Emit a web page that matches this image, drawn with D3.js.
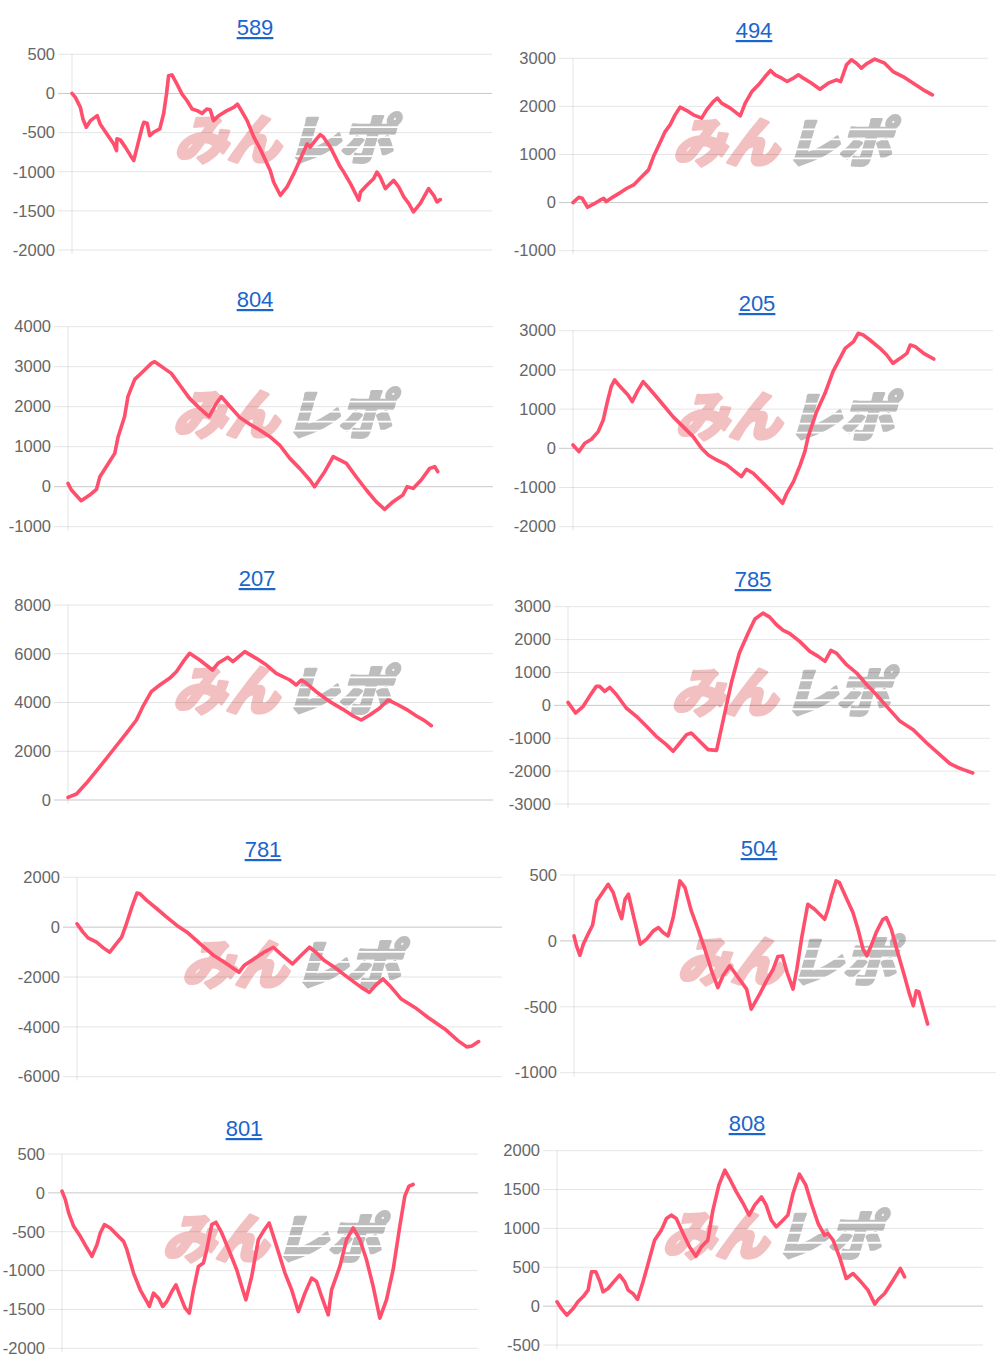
<!DOCTYPE html>
<html>
<head>
<meta charset="utf-8">
<script src="https://cdn.jsdelivr.net/npm/d3@7"></script>
<style>
html,body{margin:0;padding:0;background:#fff;}
svg{display:block;}
</style>
</head>
<body>
<svg id="c" width="1000" height="1366"></svg>
<script>
// ---- DATA ----
const titles = ["589","494","804","205","207","785","781","504","801","808"];

const yDomains = [[-2000,500],[-1000,3000],[-1000,4000],[-2000,3000],[0,8000],[-3000,3000],[-6000,2000],[-1000,500],[-2000,500],[-500,2000]];
const yTickSteps = [500,1000,1000,1000,2000,1000,2000,500,500,500];

// [progress (0-100 of x axis), value]
const d589 = [[0,0],[0.8,-51],[2,-178],[2.6,-326],[3.4,-432],[4.4,-347],[6,-284],[6.7,-390],[8.3,-517],[9.9,-644],[10.6,-729],[10.7,-580],[11.5,-593],[12.7,-686],[13.9,-792],[14.7,-856],[15.5,-686],[16.7,-432],[17.1,-369],[17.9,-381],[18.5,-538],[19.4,-496],[20.9,-453],[21.8,-263],[22.5,-8],[23,225],[23.8,237],[25,119],[26.2,-8],[27.4,-93],[28.6,-199],[29.8,-220],[31,-254],[32.1,-199],[32.9,-208],[33.7,-347],[34.9,-284],[36.9,-220],[38.5,-178],[39.4,-136],[40.1,-199],[41.7,-347],[43.3,-559],[44.8,-708],[47.2,-983],[48,-1131],[49.6,-1301],[51.2,-1195],[52.8,-1025],[54.4,-835],[56,-644],[56.7,-686],[57.9,-602],[59.1,-525],[59.9,-559],[61.5,-686],[63.9,-941],[64.7,-1004],[66.3,-1152],[68.3,-1364],[68.7,-1258],[70.2,-1174],[71.8,-1089],[72.6,-1004],[73.4,-1068],[74.6,-1216],[76.6,-1110],[77.8,-1195],[79,-1322],[80.2,-1407],[81.3,-1513],[82.9,-1407],[84.9,-1216],[86.1,-1301],[86.9,-1386],[87.7,-1356]];
const d494 = [[0,0],[1.4,111],[2.2,90],[3.5,-97],[5,-28],[6.6,55],[7.4,90],[8,21],[9.8,125],[11.4,208],[13,298],[14.6,368],[16.2,506],[18.2,680],[19.4,957],[20.9,1234],[22.2,1477],[23.4,1616],[24.6,1824],[25.8,1983],[27.4,1914],[29,1824],[31,1755],[32.2,1928],[33.8,2101],[34.8,2171],[35.8,2067],[37.9,1963],[40.3,1803],[41.5,2067],[43.1,2309],[44.7,2448],[46.3,2621],[47.6,2746],[48.7,2656],[50.3,2587],[51.6,2517],[53.1,2587],[54.3,2656],[55.5,2587],[57.5,2483],[59.5,2358],[61.5,2483],[63.5,2552],[64.5,2517],[65.9,2864],[67.1,2968],[68.3,2899],[69.5,2795],[70.7,2885],[72.7,2982],[75.1,2899],[77.1,2725],[79.5,2621],[82,2483],[84.4,2344],[86.6,2240]];
const d804 = [[0,83],[0.8,-83],[3.1,-350],[5.1,-208],[6.7,-67],[7.5,250],[9,500],[11,833],[11.8,1250],[13.3,1750],[14.1,2250],[15.7,2683],[17.6,2875],[19.6,3083],[20.4,3125],[22.3,2983],[24.3,2833],[26.3,2542],[28.6,2208],[31,1958],[33.2,1750],[34.9,2083],[36.1,2250],[38,2017],[40.4,1733],[42.7,1567],[45.1,1417],[47.5,1250],[49.8,1042],[52.2,708],[54.5,458],[56.9,167],[58,0],[60.4,375],[62.4,750],[65.5,583],[67.8,250],[70.2,-83],[72.5,-375],[74.5,-567],[76.5,-375],[78.8,-208],[79.8,0],[81.2,-42],[83.1,167],[85.1,458],[86.3,500],[87,375]];
const d205 = [[0,85],[1.4,-85],[2.8,128],[4.4,230],[6,425],[7.2,723],[8.1,1148],[9.1,1573],[9.9,1743],[11.1,1590],[13.1,1360],[14.1,1190],[15.3,1445],[16.7,1700],[17.9,1556],[19.5,1360],[21.5,1105],[23.8,808],[26.2,553],[28.6,298],[30.6,0],[32.2,-170],[34.2,-298],[36.6,-425],[38.6,-595],[40.1,-723],[41.3,-536],[42.9,-638],[45.3,-893],[47.7,-1148],[49.9,-1403],[50.9,-1148],[52.5,-850],[54.1,-425],[55.2,-85],[56,298],[58,935],[60,1403],[61.9,1955],[64.8,2550],[66.8,2720],[67.9,2933],[69.1,2890],[70.7,2763],[73.1,2550],[74.7,2380],[76.2,2168],[77.9,2295],[79.5,2423],[80.3,2635],[81.5,2593],[83.5,2423],[85.9,2278]];
const d207 = [[0,109],[2,246],[4.3,684],[7.5,1368],[10.6,2051],[13.7,2735],[16.1,3282],[17.6,3829],[19.6,4444],[21.6,4718],[23.9,4991],[25.5,5265],[27.1,5675],[28.6,6017],[31,5744],[34,5333],[35.3,5607],[37.6,5853],[38.8,5675],[41.6,6085],[44.3,5812],[46.7,5538],[49,5197],[52.2,4923],[53.7,4718],[54.9,4923],[56.1,4786],[58.4,4444],[61.6,4034],[64.7,3720],[67.1,3446],[69,3282],[71,3487],[73.3,3761],[75.3,4103],[77.3,3938],[79.6,3720],[82,3446],[83.9,3255],[85.5,3049]];
const d785 = [[0,91],[1.8,-233],[3.6,-30],[5.1,274],[6.7,577],[7.5,577],[8.7,425],[9.9,547],[11.5,324],[13.8,-81],[16.2,-334],[18.6,-638],[20.9,-942],[23.3,-1195],[24.9,-1398],[26.5,-1145],[28.1,-891],[29.2,-841],[31.2,-1094],[33.2,-1347],[35.2,-1368],[36.8,-436],[38.7,679],[40.6,1590],[42.7,2198],[44.3,2624],[46.2,2806],[47.8,2684],[49.4,2451],[51,2279],[52.6,2178],[54.9,1945],[57.3,1641],[59.3,1489],[60.9,1337],[62.3,1671],[63.6,1590],[66,1236],[68.4,983],[70.8,628],[73.1,324],[75.5,-30],[78.7,-486],[81.8,-740],[85,-1145],[88.1,-1499],[90.5,-1773],[92.1,-1874],[93.7,-1955],[95.9,-2056]];
const d781 = [[0,134],[1.4,-201],[2.6,-429],[4.6,-604],[6.2,-832],[7.7,-1007],[8.9,-738],[10.5,-403],[11.5,67],[12.9,805],[14.1,1369],[14.8,1342],[16.4,1074],[18.8,738],[21.1,403],[23.5,67],[25.9,-201],[29,-671],[32.2,-1141],[35.3,-1476],[38.1,-1812],[39.3,-1543],[41.6,-1275],[44,-1007],[46.2,-805],[47.9,-1074],[50.7,-1476],[52.7,-1141],[54.7,-805],[56.2,-1007],[58.2,-1342],[60.6,-1610],[63.7,-2013],[66.9,-2416],[68.8,-2617],[70.4,-2308],[72,-2080],[73.6,-2349],[76.3,-2885],[79.5,-3221],[82.6,-3623],[86.6,-4093],[89.7,-4563],[91.7,-4804],[92.9,-4764],[94.5,-4590]];
const d504 = [[0,38],[0.6,-38],[1.4,-109],[2.2,-25],[3.2,43],[4.4,119],[5.4,303],[6.5,354],[8.1,429],[9.3,366],[10.5,240],[11.3,169],[12.1,316],[12.9,354],[14.1,189],[15.7,-25],[17.2,13],[18.8,76],[20,101],[21.1,63],[22.3,38],[23.5,177],[25.1,455],[26.3,404],[27.8,227],[29.4,88],[31,-63],[32.6,-227],[34.1,-354],[35.3,-265],[36.9,-189],[38.9,-278],[40.9,-366],[42,-518],[44,-404],[45.6,-303],[47.2,-215],[48.3,-119],[49.4,-114],[50.5,-240],[51.9,-366],[52.8,-215],[53.9,13],[55.4,278],[57,240],[59.4,164],[60.2,240],[61,341],[62.1,455],[62.9,442],[64.5,328],[66.1,215],[67.3,88],[68.5,-63],[69.4,-114],[70.4,-38],[71.6,63],[73.2,164],[74,177],[75.2,88],[76.7,-88],[78.3,-265],[79.5,-404],[80.4,-492],[81.1,-379],[81.7,-386],[82.6,-492],[83.8,-631]];
const d801 = [[0,22],[0.8,-86],[1.6,-258],[2.8,-430],[4.4,-559],[6,-710],[7.2,-817],[8.4,-667],[9.2,-516],[10.2,-409],[11.6,-452],[13.2,-538],[14.8,-624],[15.6,-731],[17.2,-1032],[18.8,-1247],[20.4,-1398],[21,-1462],[22,-1290],[23.2,-1355],[24.2,-1462],[25.2,-1398],[26.4,-1269],[27.4,-1183],[28,-1269],[28.8,-1376],[29.6,-1484],[30.6,-1548],[31.6,-1247],[32.8,-946],[34,-903],[34.8,-731],[36,-409],[37,-378],[38.4,-516],[40.4,-774],[42,-989],[43.2,-1204],[44.2,-1376],[45.6,-1075],[47.2,-602],[48.4,-495],[49.8,-387],[51.6,-688],[53.6,-1032],[55.2,-1247],[56.8,-1527],[58.4,-1290],[60,-1097],[61.2,-1140],[62.4,-1333],[64,-1570],[64.8,-1247],[66.8,-946],[68.4,-602],[70,-452],[71.6,-602],[73.2,-860],[74.8,-1204],[76.4,-1613],[78,-1376],[79.6,-989],[81.2,-430],[82.4,-43],[83.4,86],[84.4,108]];
const d808 = [[0,56],[1,-30],[2.3,-116],[3.8,-30],[4.9,56],[6.1,120],[7.3,206],[8.1,442],[9.1,442],[10.1,313],[10.8,184],[12,227],[13.1,300],[14.7,399],[15.9,313],[16.7,206],[17.8,163],[18.9,86],[20.2,313],[21.4,549],[22.9,849],[24.5,978],[25.7,1128],[26.8,1171],[28,1128],[29.6,935],[31.1,763],[32.6,643],[33.9,763],[35.4,849],[36.6,1235],[38,1557],[39.4,1750],[40.5,1642],[42.1,1471],[43.7,1321],[45.1,1171],[46.4,1299],[48,1407],[49.1,1299],[50.3,1106],[51.5,1021],[52.7,1085],[54.2,1171],[55.4,1449],[56.9,1698],[58.4,1557],[59.7,1321],[61.3,1063],[62.8,913],[63.6,935],[64.8,849],[66.3,635],[67.9,356],[69.5,420],[71,334],[73,206],[74.6,26],[75.4,86],[76.9,163],[78.9,334],[80.6,485],[81.6,377]];

const seriesList = [d589,d494,d804,d205,d207,d785,d781,d504,d801,d808];

// ---- LAYOUT (page positions of each panel in the collage) ----
const layout = [
  {left:72,  right:492, top:54.3,  bottom:250,    tx:255, ty:35},
  {left:573, right:988, top:58.3,  bottom:250.7,  tx:754, ty:38},
  {left:68,  right:493, top:326.7, bottom:526.7,  tx:255, ty:307},
  {left:573, right:993, top:330.7, bottom:526.7,  tx:757, ty:311},
  {left:68,  right:493, top:605,   bottom:800,    tx:257, ty:586},
  {left:568, right:990, top:606.7, bottom:804,    tx:753, ty:587},
  {left:77,  right:502, top:877.3, bottom:1076.7, tx:263, ty:857},
  {left:574, right:996, top:875,   bottom:1072.7, tx:759, ty:856},
  {left:62,  right:478, top:1154,  bottom:1348.3, tx:244, ty:1136},
  {left:557, right:983, top:1150.7,bottom:1345,   tx:747, ty:1131}
];

const FONT = "'Liberation Sans', Arial, Helvetica, sans-serif";
const svg = d3.select("#c");
svg.append("rect").attr("width",1000).attr("height",1366).attr("fill","#fff");

layout.forEach((p, i) => {
  const g = svg.append("g");
  const [ymin, ymax] = yDomains[i];
  const x = d3.scaleLinear().domain([0,100]).range([p.left, p.right]);
  const y = d3.scaleLinear().domain([ymin, ymax]).range([p.bottom, p.top]);
  const ticks = d3.range(ymin, ymax + yTickSteps[i]/2, yTickSteps[i]);

  // watermark (behind everything)
  const cx = (p.left + p.right) / 2, cy = (p.top + p.bottom) / 2 - 12;
  const wm = g.append("g").attr("transform", `translate(${cx},${cy + 19}) skewX(-16)`);
  wm.append("text").attr("x", -2).attr("text-anchor","end")
    .attr("font-family","'Noto Sans CJK JP'").attr("font-weight",900).attr("font-size",53)
    .attr("fill","#f2c0c0").attr("stroke","#f2c0c0").attr("stroke-width",3)
    .attr("stroke-linejoin","round").text("みん");
  wm.append("text").attr("x", 4).attr("text-anchor","start")
    .attr("font-family","'Noto Sans CJK JP'").attr("font-weight",900).attr("font-size",53)
    .attr("fill","#bdbdbd").attr("stroke","#bdbdbd").attr("stroke-width",3)
    .attr("stroke-linejoin","round").text("レポ");
  [-33,-23,-13,-4].forEach(o => {
    wm.append("rect").attr("x", 2).attr("y", o).attr("width", 125).attr("height", 1.8).attr("fill","#fff");
  });

  // gridlines
  g.selectAll(".grid").data(ticks).enter().append("line")
    .attr("x1", p.left - 14).attr("x2", p.right)
    .attr("y1", d => y(d)).attr("y2", d => y(d))
    .attr("stroke", d => d === 0 ? "rgba(0,0,0,0.22)" : "rgba(0,0,0,0.1)")
    .attr("stroke-width", 1);
  // vertical axis line
  g.append("line").attr("x1", p.left).attr("x2", p.left)
    .attr("y1", p.top).attr("y2", p.bottom + 4)
    .attr("stroke","rgba(0,0,0,0.1)");

  // y axis labels
  const ax = g.append("g").attr("transform", `translate(${p.left},0)`)
    .call(d3.axisLeft(y).tickValues(ticks).tickSize(0).tickPadding(17).tickFormat(d => String(d)));
  ax.select(".domain").remove();
  ax.selectAll("text").attr("font-family", FONT).attr("font-size", 16.5).attr("fill","#666");

  // series line
  g.append("path").datum(seriesList[i])
    .attr("fill","none").attr("stroke","#ff4f6d").attr("stroke-width",3.6)
    .attr("stroke-linejoin","round").attr("stroke-linecap","round")
    .attr("d", d3.line().x(d => x(d[0])).y(d => y(d[1])));

  // title
  g.append("text").attr("x", p.tx).attr("y", p.ty).attr("text-anchor","middle")
    .attr("font-family", FONT).attr("font-size", 22).attr("fill","#1a66cc")
    .attr("text-decoration","underline").text(titles[i]);
});
</script>
</body>
</html>
